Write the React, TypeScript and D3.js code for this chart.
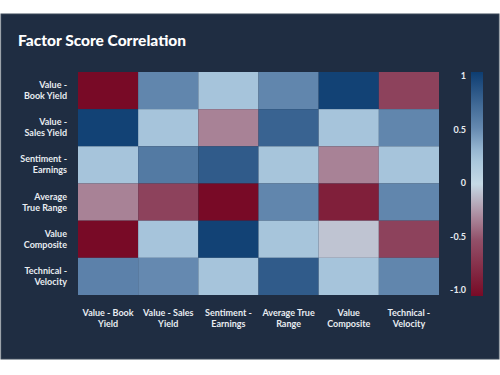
import React from "react";
import * as d3 from "d3";

const factors = [
  ["Value -", "Book Yield"],
  ["Value -", "Sales Yield"],
  ["Sentiment -", "Earnings"],
  ["Average", "True Range"],
  ["Value", "Composite"],
  ["Technical -", "Velocity"],
];
const xLabels = [
  ["Value - Book", "Yield"],
  ["Value - Sales", "Yield"],
  ["Sentiment -", "Earnings"],
  ["Average True", "Range"],
  ["Value", "Composite"],
  ["Technical -", "Velocity"],
];
const row1 = [-1.0, 0.52, 0.23, 0.52, 0.97, -0.6];
const row2 = [0.97, 0.23, -0.32, 0.75, 0.23, 0.52];
const row3 = [0.23, 0.6, 0.8, 0.22, -0.32, 0.23];
const row4 = [-0.32, -0.6, -1.0, 0.52, -0.85, 0.52];
const row5 = [-1.0, 0.23, 0.97, 0.22, -0.08, -0.6];
const row6 = [0.55, 0.5, 0.23, 0.8, 0.23, 0.52];
const matrix = [row1, row2, row3, row4, row5, row6];
const colorTicks = [1, 0.5, 0, -0.5, -1];
const colorTickLabels = ["1", "0.5", "0", "-0.5", "-1.0"];

const colorStops = [-1, -0.5, -0.25, 0, 0.25, 0.5, 1];
const colorRange = ["#780a26", "#925069", "#b095a8", "#c6dae6", "#a3c2da", "#6589b0", "#0d3d71"];

export default function App() {
  const W = 500, H = 375;
  const gx0 = 78, gx1 = 439, gy0 = 72, gy1 = 295;
  const ids = d3.range(6);
  const x = d3.scaleBand<number>().domain(ids).range([gx0, gx1]);
  const y = d3.scaleBand<number>().domain(ids).range([gy0, gy1]);
  const color = d3.scaleLinear<string>().domain(colorStops).range(colorRange).interpolate(d3.interpolateRgb).clamp(true);
  const cbY = d3.scaleLinear().domain([1, -1]).range([76, 290]);
  const cbBar = d3.scaleLinear().domain([1, -1]).range([72, 296]);
  const gradStops = d3.range(0, 1.0001, 0.05);
  const font = "Lato, 'Open Sans', sans-serif";
  const lblColor = "#e8ecf1";

  return (
    <div style={{ position: "fixed", left: 0, top: 0 }}>
      <svg width={W} height={H} style={{ display: "block", background: "#ffffff" }}>
        <defs>
          <linearGradient id="cb" x1="0" y1="0" x2="0" y2="1">
            {gradStops.map((t) => (
              <stop key={t} offset={`${t * 100}%`} stopColor={color(cbBar.invert(72 + t * 224))} />
            ))}
          </linearGradient>
        </defs>
        <rect x={1} y={14} width={498} height={345} fill="#1f2d42" stroke="#3b4859" strokeWidth={1} />
        <text x={18} y={46} fill="#ffffff" fontFamily={font} fontWeight={900} fontSize={15.5}>
          Factor Score Correlation
        </text>
        {matrix.map((row, i) =>
          row.map((v, j) => (
            <rect key={`${i}-${j}`} x={x(j)} y={y(i)} width={x.bandwidth()} height={y.bandwidth()} fill={color(v)} />
          ))
        )}
        {factors.map((lines, i) => {
          const cy = (y(i) as number) + y.bandwidth() / 2;
          return (
            <g key={`yl${i}`}>
              <text x={67} y={cy - 2.5} textAnchor="end" fill={lblColor} fontFamily={font} fontWeight={700} fontSize={9}>{lines[0]}</text>
              <text x={67} y={cy + 8.5} textAnchor="end" fill={lblColor} fontFamily={font} fontWeight={700} fontSize={9}>{lines[1]}</text>
            </g>
          );
        })}
        {xLabels.map((lines, j) => {
          const cx = (x(j) as number) + x.bandwidth() / 2;
          return (
            <g key={`xl${j}`}>
              <text x={cx} y={316} textAnchor="middle" fill={lblColor} fontFamily={font} fontWeight={700} fontSize={9}>{lines[0]}</text>
              <text x={cx} y={326.5} textAnchor="middle" fill={lblColor} fontFamily={font} fontWeight={700} fontSize={9}>{lines[1]}</text>
            </g>
          );
        })}
        <rect x={471} y={72} width={12} height={224} fill="url(#cb)" />
        {colorTicks.map((t, k) => (
          <text key={`ct${k}`} x={466} y={cbY(t) + 3} textAnchor="end" fill={lblColor} fontFamily={font} fontWeight={700} fontSize={9}>
            {colorTickLabels[k]}
          </text>
        ))}
      </svg>
    </div>
  );
}
